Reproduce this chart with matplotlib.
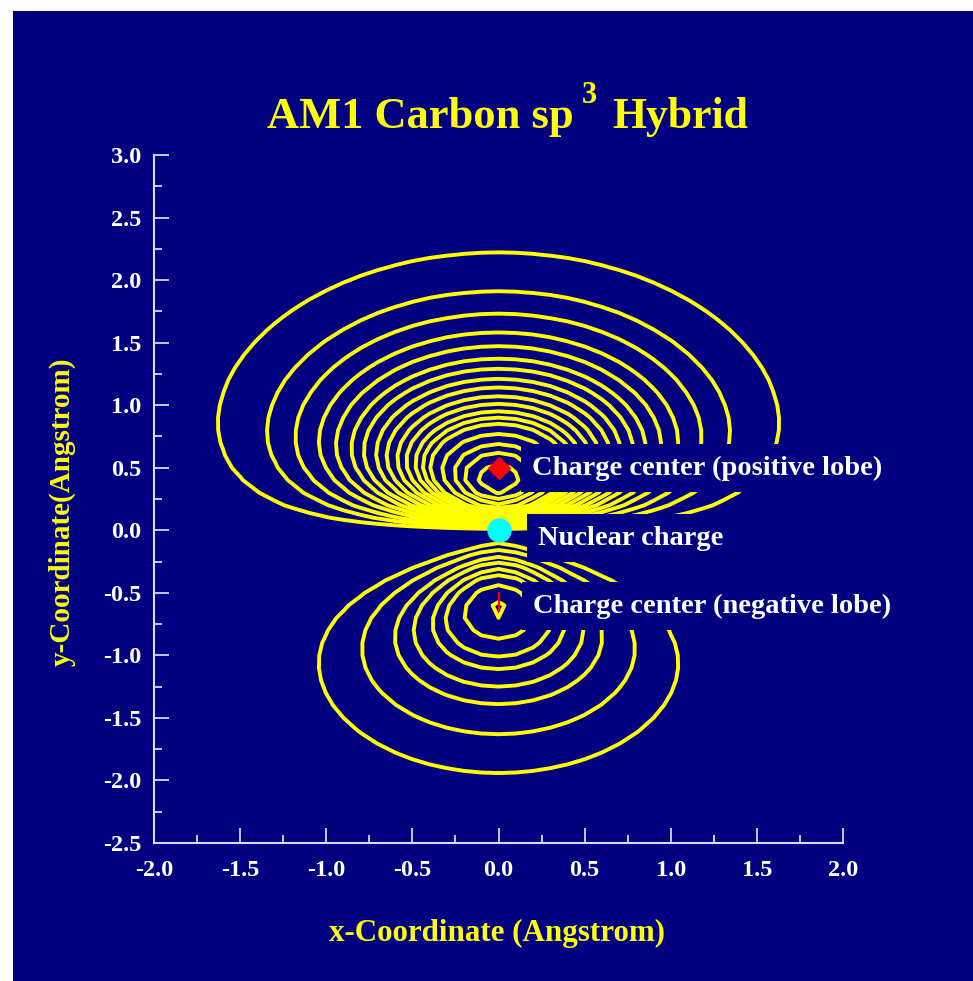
import numpy as np
import matplotlib
matplotlib.use("Agg")
import matplotlib.pyplot as plt
from matplotlib.patches import Rectangle
from matplotlib.ticker import MultipleLocator

NAVY = "#000080"
YELLOW = "#ffff00"
plt.rcParams["font.family"] = ["Liberation Serif", "DejaVu Serif"]
plt.rcParams["font.weight"] = "bold"

# Slater exponents (1/Angstrom) and s admixture of the two lobes
zeta_pos = 2.5
zeta_neg = 1.6
s_mix_neg = 0.22

# heights (Angstrom) where each contour crosses the x = 0 line
pos_crossings = [2.22, 1.91, 1.73, 1.58, 1.47, 1.37, 1.29, 1.21, 1.14,
                 1.07, 1.01, 0.95, 0.90, 0.85, 0.77, 0.69, 0.62, 0.53]
neg_crossings = [-1.94, -1.63, -1.39, -1.25, -1.11, -1.01, -0.87, -0.70]

# grid of the orbital calculation (0.1 Angstrom spacing)
grid_x = np.linspace(-2.0, 2.0, 41)
grid_y = np.linspace(-2.5, 3.0, 56)

nucleus = (0.0, 0.0)
center_pos = (0.0, 0.5)
center_neg = (0.0, -0.575)


def orbital(x, y):
    r = np.hypot(x, y)
    pos = np.where(y > 0, y * np.exp(-zeta_pos * r), 0.0)
    neg = np.exp(-zeta_neg * r) * (s_mix_neg * r + y)
    neg = np.where(y < 0, np.minimum(neg, 0.0), 0.0)
    return pos + neg


X, Y = np.meshgrid(grid_x, grid_y)
psi = orbital(X, Y)
levels = sorted([orbital(0.0, c) for c in neg_crossings + pos_crossings])

fig = plt.figure(figsize=(9.73, 9.81), dpi=100)
fig.patch.set_facecolor("white")
fig.add_artist(Rectangle((13 / 973, 0), 1, 1 - 11 / 981,
                         transform=fig.transFigure, fc=NAVY, ec="none",
                         zorder=-10))

ax = fig.add_axes([0.1583, 0.1407, 0.7081, 0.7013])
ax.set_facecolor(NAVY)
ax.patch.set_alpha(0)

ax.contour(X, Y, psi, levels=levels, colors=YELLOW, linewidths=2.8,
           linestyles="solid", zorder=2)

ax.plot(*center_pos, marker="D", ms=11, color="red", zorder=6)
ax.plot(*nucleus, marker="o", ms=16.5, color="#00ffff", zorder=6)
ax.plot(*center_neg, marker="|", ms=15, mew=1.6, color="red", zorder=6)

box = dict(boxstyle="square,pad=0.4", fc=NAVY, ec="none")
label_kw = dict(color="white", fontsize=20.5, fontweight="bold",
                va="baseline", ha="left", bbox=box, zorder=5)
ax.text(0.195, 0.445, "Charge center (positive lobe)", **label_kw)
ax.text(0.23, -0.115, "Nuclear charge", **label_kw)
ax.text(0.20, -0.66, "Charge center (negative lobe)", **label_kw)

ax.set_xlim(-2.0, 2.0)
ax.set_ylim(-2.5, 3.0)
ax.xaxis.set_major_locator(MultipleLocator(0.5))
ax.xaxis.set_minor_locator(MultipleLocator(0.25))
ax.yaxis.set_major_locator(MultipleLocator(0.5))
ax.yaxis.set_minor_locator(MultipleLocator(0.25))
ax.xaxis.set_major_formatter(lambda v, p: f"{v:.1f}")
ax.yaxis.set_major_formatter(lambda v, p: f"{v:.1f}")

edge = "#d8d8e8"
for side in ("top", "right"):
    ax.spines[side].set_visible(False)
for side in ("left", "bottom"):
    ax.spines[side].set_color(edge)
    ax.spines[side].set_linewidth(1.5)
ax.tick_params(which="both", direction="in", color=edge, width=1.3,
               labelcolor="white", labelsize=17.5)
ax.tick_params(which="major", length=11)
ax.tick_params(which="minor", length=6)
ax.tick_params(axis="x", pad=12)
ax.tick_params(axis="y", pad=9)
for lab in ax.get_xticklabels() + ax.get_yticklabels():
    lab.set_fontweight("bold")

fig.text(267 / 973, 1 - 128 / 981, "AM1 Carbon sp", color=YELLOW,
         fontsize=32, fontweight="bold", ha="left", va="baseline")
fig.text(582 / 973, 1 - 103 / 981, "3", color=YELLOW,
         fontsize=22, fontweight="bold", ha="left", va="baseline")
fig.text(612 / 973, 1 - 128 / 981, "Hybrid", color=YELLOW,
         fontsize=31.5, fontweight="bold", ha="left", va="baseline")

fig.text(497 / 973, 1 - 933 / 981, "x-Coordinate (Angstrom)", color=YELLOW,
         fontsize=22.3, fontweight="bold", ha="center", va="center")
fig.text(62 / 973, 1 - 512 / 981, "y-Coordinate(Angstrom)", color=YELLOW,
         fontsize=21, fontweight="bold", ha="center", va="center",
         rotation=90)

fig.savefig("out.png", dpi=100, facecolor=fig.get_facecolor())
